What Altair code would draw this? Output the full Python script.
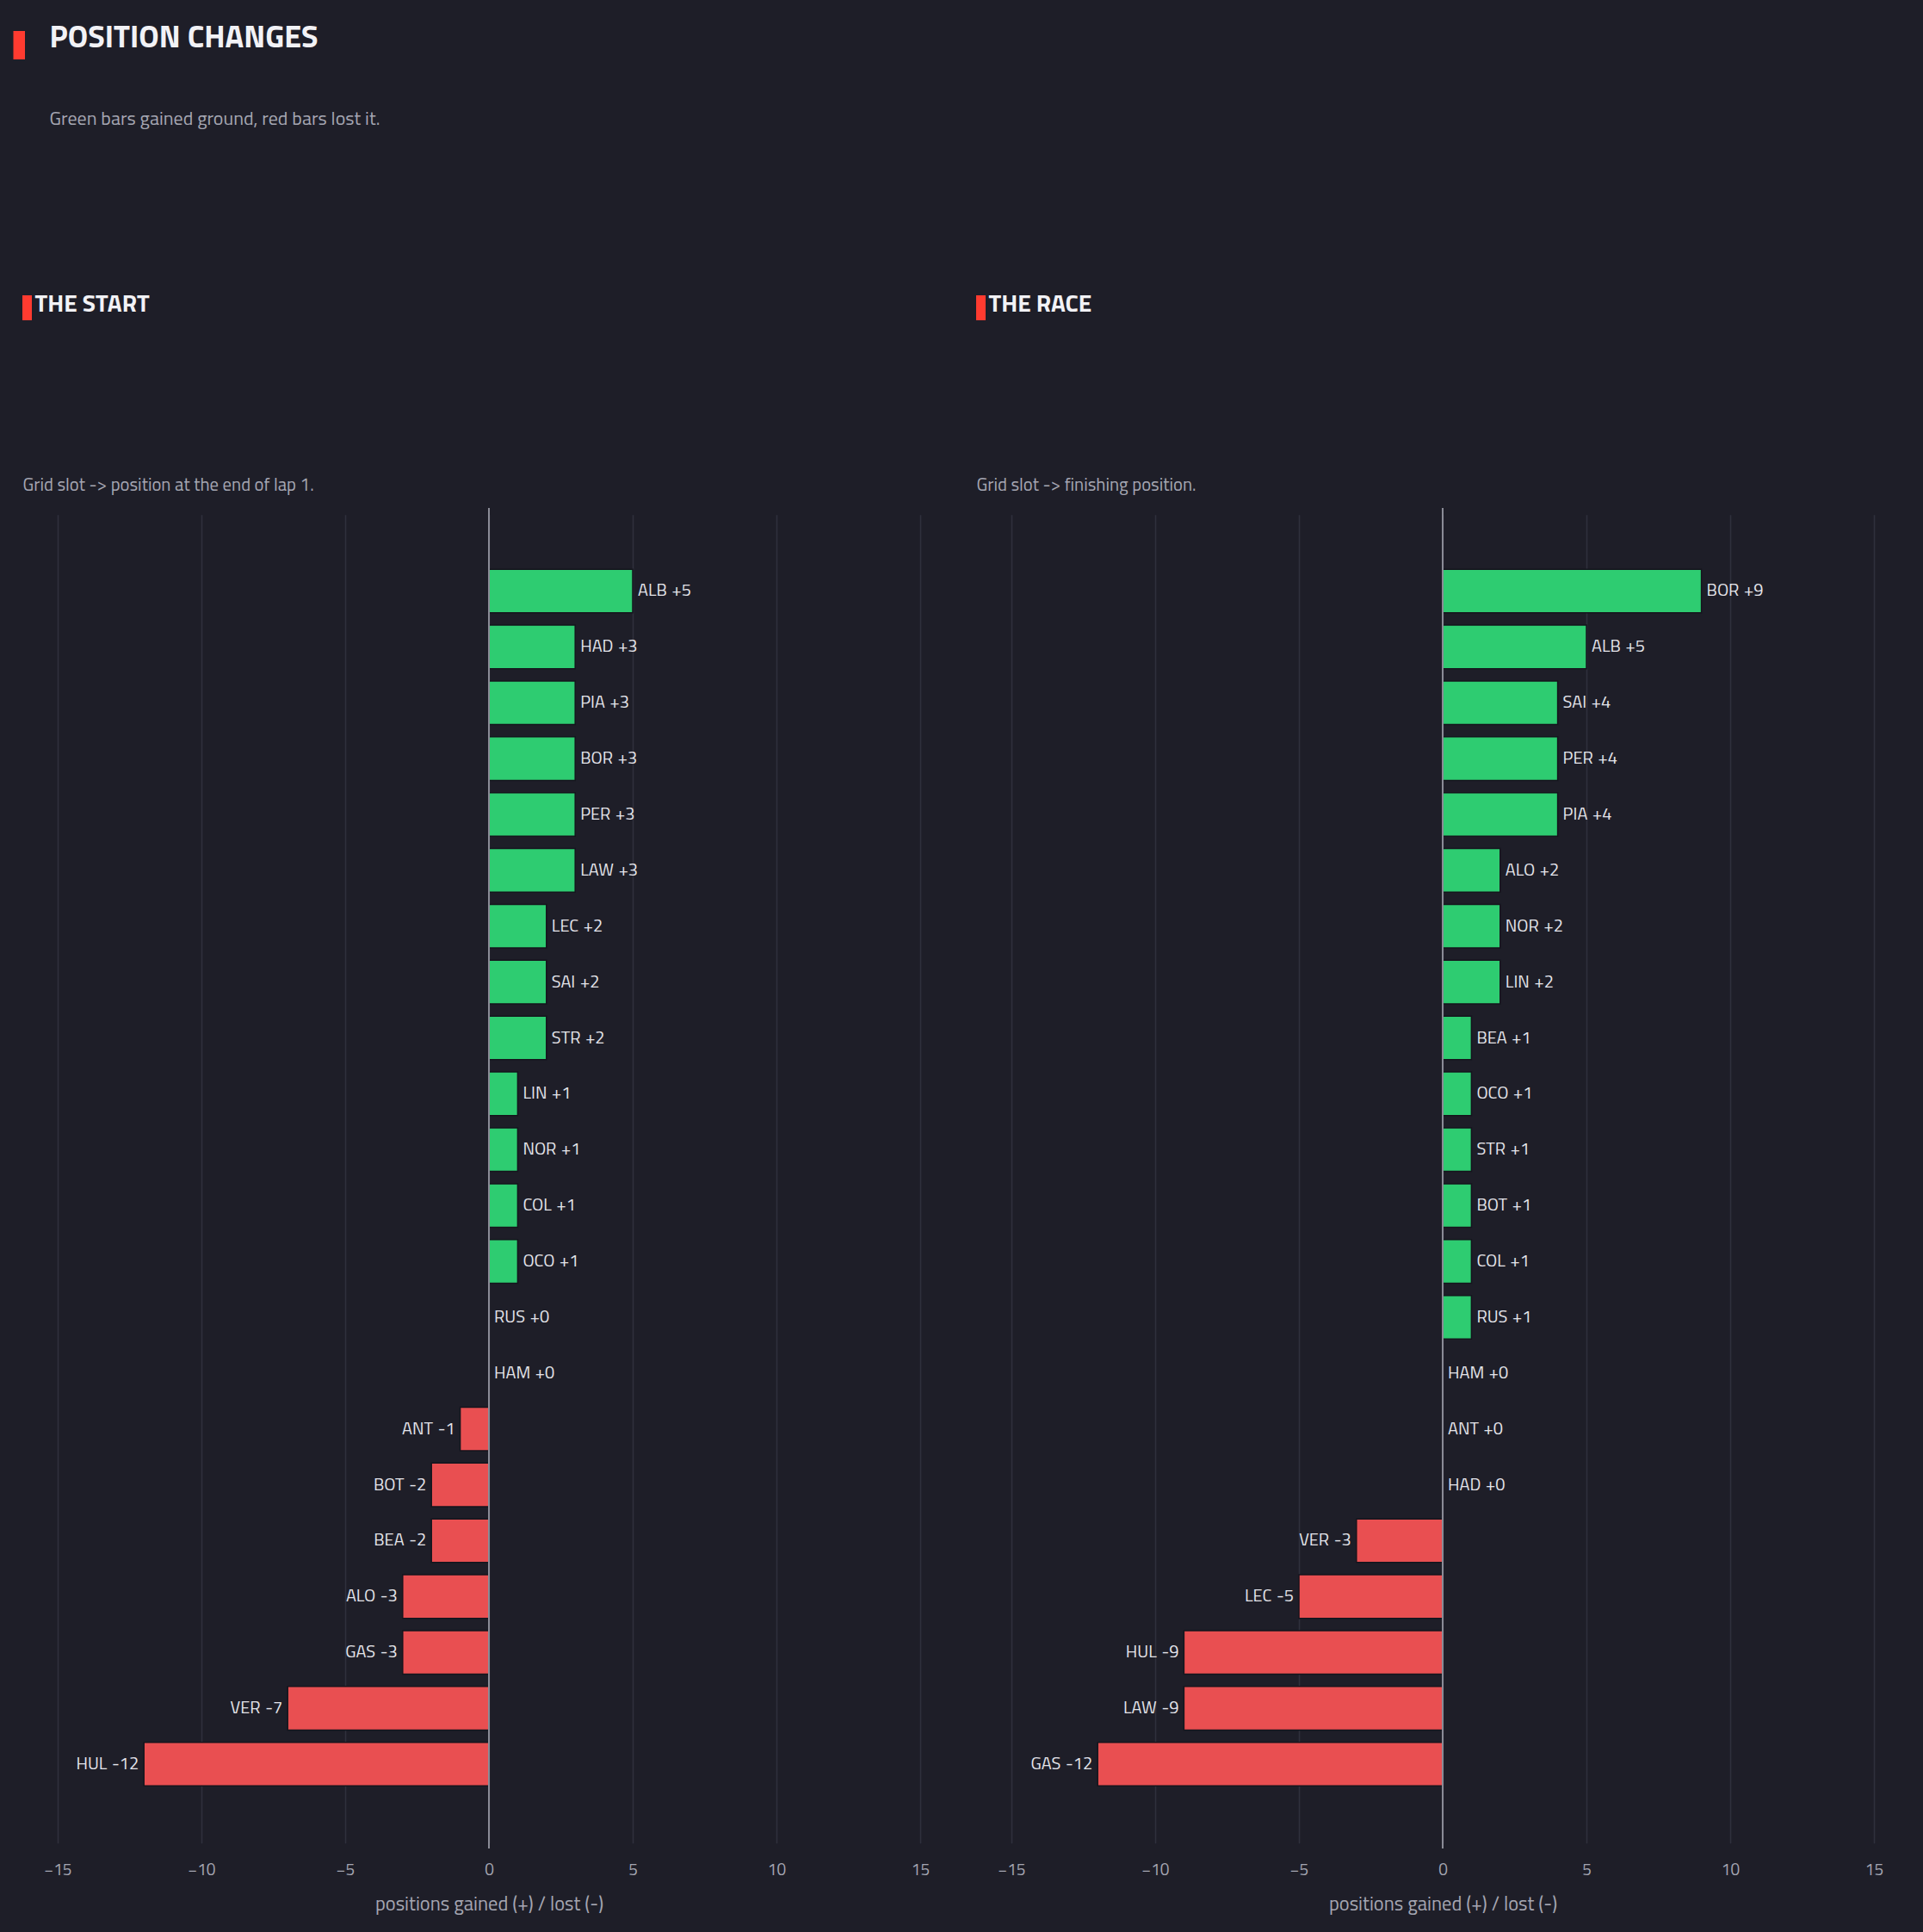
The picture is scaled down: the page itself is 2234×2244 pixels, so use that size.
import altair as alt
import pandas as pd

# Positions gained/lost, listed top to bottom as drawn
start_drivers = ["ALB", "HAD", "PIA", "BOR", "PER", "LAW", "LEC", "SAI", "STR", "LIN", "NOR",
                 "COL", "OCO", "RUS", "HAM", "ANT", "BOT", "BEA", "ALO", "GAS", "VER", "HUL"]
start_delta = [5, 3, 3, 3, 3, 3, 2, 2, 2, 1, 1, 1, 1, 0, 0, -1, -2, -2, -3, -3, -7, -12]

race_drivers = ["BOR", "ALB", "SAI", "PER", "PIA", "ALO", "NOR", "LIN", "BEA", "OCO", "STR",
                "BOT", "COL", "RUS", "HAM", "ANT", "HAD", "VER", "LEC", "HUL", "LAW", "GAS"]
race_delta = [9, 5, 4, 4, 4, 2, 2, 2, 1, 1, 1, 1, 1, 1, 0, 0, 0, -3, -5, -9, -9, -12]

x_ticks = [-15, -10, -5, 0, 5, 10, 15]

main_title = ["POSITION CHANGES"]
main_note = ["Green bars gained ground, red bars lost it."]
start_heading = ["THE START"]
start_note = ["Grid slot -> position at the end of lap 1."]
race_heading = ["THE RACE"]
race_note = ["Grid slot -> finishing position."]
axis_title = "positions gained (+) / lost (-)"

FONT = "Titillium Web, Liberation Sans Narrow, Roboto, sans-serif"
BG = "#1e1e28"
GREEN = "#2ecc71"
RED = "#e94f51"
ACCENT = "#ff3b30"
GRID = "#2f303c"
ZERO = "#8a8b96"
WHITE = "#f2f2f6"
MUTED = "#a5a6b2"
LABEL = "#e4e4ea"

W, H = 1002, 1557


def text_layer(values, size, weight, color, x, y):
    return alt.Chart(pd.DataFrame({"t": values})).mark_text(
        font=FONT, fontSize=size, fontWeight=weight, color=color,
        align="left", baseline="alphabetic"
    ).encode(text="t:N", x=alt.value(x), y=alt.value(y))


def accent(x, x2, y, y2):
    return alt.Chart(pd.DataFrame({"k": [0]})).mark_rect(color=ACCENT).encode(
        x=alt.value(x), x2=alt.value(x2), y=alt.value(y), y2=alt.value(y2))


def spacer(x, x2, y, y2):
    # transparent block that pins an edge of the canvas
    return alt.Chart(pd.DataFrame({"k": [0]})).mark_rect(opacity=0).encode(
        x=alt.value(x), x2=alt.value(x2), y=alt.value(y), y2=alt.value(y2))


def panel(drivers, deltas, heading, note, first):
    df = pd.DataFrame({"driver": drivers, "delta": deltas})
    df["label"] = [f"{d} \u200a{v:+d}" for d, v in zip(drivers, deltas)]
    df["dir"] = ["gain" if v > 0 else ("loss" if v < 0 else "level") for v in deltas]

    x = alt.X("delta:Q", scale=alt.Scale(domain=[-15, 15], nice=False, zero=False),
              axis=alt.Axis(values=x_ticks, title=axis_title, grid=True, gridColor=GRID,
                            gridWidth=1.6, domain=False, ticks=False, labelPadding=15,
                            labelFlush=False, labelFontSize=19, labelColor=MUTED,
                            labelFont=FONT, titleFont=FONT, titleFontSize=22.5,
                            titleFontWeight="normal", titleColor=MUTED, titlePadding=19))
    y = alt.Y("driver:N", sort=drivers,
              scale=alt.Scale(paddingInner=0.22, paddingOuter=1, range=[6.3, 1549.2]),
              axis=None)

    base = alt.Chart(df)
    bars = base.transform_filter("datum.delta != 0").mark_bar(
        stroke="#15151d", strokeWidth=1.5
    ).encode(
        x=x, x2=alt.datum(0), y=y,
        color=alt.Color("dir:N", scale=alt.Scale(domain=["gain", "loss"], range=[GREEN, RED]),
                        legend=None),
    )
    right_labels = base.transform_filter("datum.delta >= 0").mark_text(
        align="left", dx=6, font=FONT, fontSize=20, color=LABEL, baseline="middle"
    ).encode(x="delta:Q", y=y, text="label:N")
    left_labels = base.transform_filter("datum.delta < 0").mark_text(
        align="right", dx=-6, font=FONT, fontSize=20, color=LABEL, baseline="middle"
    ).encode(x="delta:Q", y=y, text="label:N")
    zero_rule = alt.Chart(pd.DataFrame({"z": [0]})).mark_rule(
        color=ZERO, strokeWidth=2).encode(x="z:Q")

    layers = []
    if first:
        layers.append(spacer(-66.7, 0, -590, -500))
        layers.append(accent(-51.5, -38, -554, -521))
        layers.append(text_layer(main_title, 36, "bold", WHITE, -9.5, -535))
        layers.append(text_layer(main_note, 22, "normal", MUTED, -9.5, -445))
    else:
        layers.append(spacer(1000, 1058.8, 1600, 1653.5))
    layers += [
        accent(-41, -30, -247, -218),
        text_layer(heading, 28, "bold", WHITE, -26.5, -228),
        text_layer(note, 20.7, "normal", MUTED, -40.5, -20),
        bars, zero_rule, right_labels, left_labels,
    ]
    return alt.layer(*layers).properties(width=W, height=H)


left = panel(start_drivers, start_delta, start_heading, start_note, True)
right = panel(race_drivers, race_delta, race_heading, race_note, False)

chart = alt.hconcat(left, right, spacing=106, bounds="flush").resolve_scale(
    y="independent", x="independent"
).properties(
    background=BG, padding={"left": 0, "top": 0, "right": 0, "bottom": 0}
).configure_view(stroke=None)

chart.save("out.html", embed_options={"renderer": "svg", "actions": False})
